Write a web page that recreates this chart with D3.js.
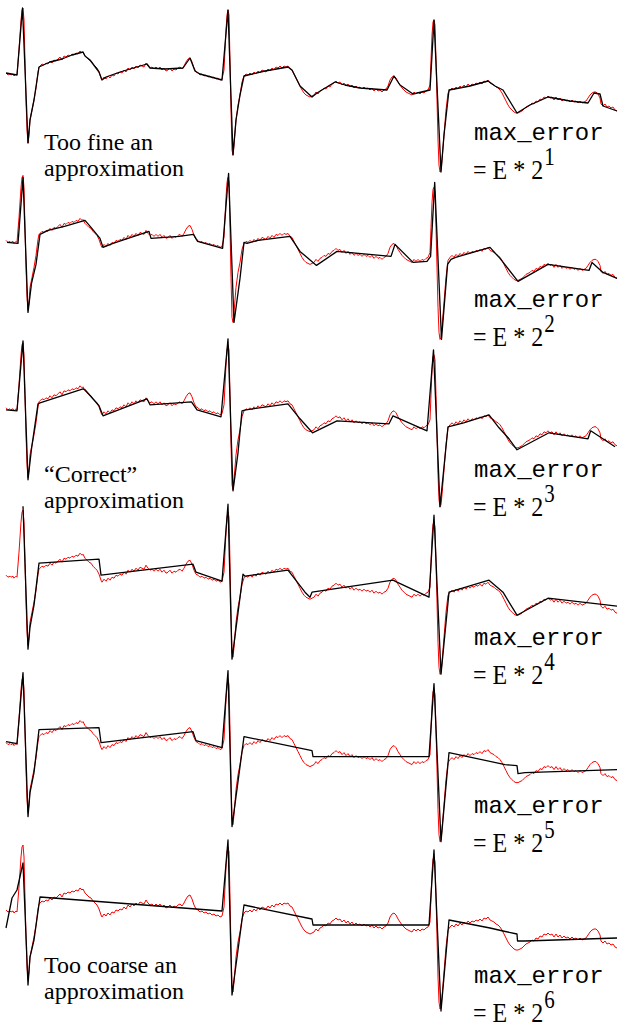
<!DOCTYPE html>
<html><head><meta charset="utf-8">
<script src="https://cdn.jsdelivr.net/npm/d3@7/dist/d3.min.js"></script>
<style>html,body{margin:0;padding:0;background:#fff;} svg{display:block;}</style>
</head><body>
<script>
// Raw ECG signal [sample, value] (same signal in every panel)
const rawSignal = [
[6,7],[8,5],[10,6],[11,5],[13,6],[14,4],[16,6],[17,5],
[19,30],[21,60],[22,70],[23,72],[24,60],[25,20],[26,-20],[27,-50],[28,-63],[29,-55],[30,-40],[32,-30],[34,-20],[36,-8],[38,8],[39,13],
[40,14],[42,16],[44,15],[46,17],[48,16],[50,19],[52,17],[54,20],[56,19],[58,21],[60,23],[62,20],[64,24],[66,23],[68,25],[70,24],[72,26],[74,25],[76,27],[78,26],[80,29],[82,27],[83,28],
[85,24],[87,22],[89,20],[91,19],[93,16],[95,14],[97,12],[99,8],[101,2],[102,0],[104,3],[106,1],[108,4],[110,2],[112,5],[114,4],[116,7],[118,6],[120,8],[122,7],[124,10],[126,8],[128,12],[130,10],[132,13],[134,11],[136,14],[138,12],[140,15],[142,14],[144,13],[146,17],[148,14],[150,12],[152,13],[154,11],[156,13],[158,11],[160,13],[162,10],[164,12],[166,9],[168,10],[170,12],[172,9],[174,11],[176,10],[178,12],[180,13],[182,11],[184,14],[186,18],[188,21],[190,22],[192,18],[194,12],[196,8],[198,7],[200,5],[202,6],[204,4],[206,5],[208,3],[210,4],[212,2],[214,3],[216,1],[218,2],[220,0],[222,1],
[224,10],[226,50],[227,65],[228,70],[229,65],[230,20],[231,-30],[232,-70],[233,-75],[234,-65],[236,-40],[238,-25],[240,-15],[242,-2],[244,4],[246,6],[248,5],[250,7],[252,5],[254,8],[256,6],[258,9],[260,7],[262,10],[264,9],[266,8],[268,11],[270,9],[272,12],[274,10],[276,13],[278,12],[280,14],[282,12],[284,14],[286,13],[288,14],[290,11],[292,10],[294,6],[296,2],[298,-2],[300,-6],[302,-10],[304,-13],[306,-15],[308,-16],[310,-17],[312,-16],[314,-15],[316,-12],[318,-14],[320,-11],[322,-10],[324,-8],[326,-9],[328,-6],[330,-7],[332,-4],[334,-3],[336,-1],[338,-3],[340,-2],[342,-5],[344,-3],[346,-6],[348,-4],[350,-7],[352,-5],[354,-8],[356,-6],[358,-8],[360,-7],[362,-9],[364,-7],[366,-9],[368,-8],[370,-10],[372,-8],[374,-11],[376,-9],[378,-11],[380,-10],[382,-12],[384,-10],[386,-9],[388,-6],[390,0],[392,3],[394,4],[396,2],[398,-2],[400,-5],[402,-8],[404,-10],[406,-12],[408,-13],[410,-14],[412,-15],[414,-12],[416,-14],[418,-12],[420,-14],[422,-12],[424,-13],[426,-11],[428,-10],[430,-5],
[431,20],[432,45],[433,58],[434,60],[435,55],[436,20],[437,-20],[438,-60],[439,-85],[440,-92],[441,-90],[442,-80],[444,-55],[446,-30],[448,-13],[450,-10],[452,-8],[454,-10],[456,-7],[458,-9],[460,-6],[462,-8],[464,-5],[466,-7],[468,-4],[470,-6],[472,-4],[474,-5],[476,-3],[478,-4],[480,-2],[482,-4],[484,-1],[486,-2],[488,0],[490,-3],[492,-4],[494,-5],[496,-7],[498,-8],[500,-10],[502,-13],[504,-17],[506,-21],[508,-25],[510,-28],[512,-30],[514,-32],[516,-33],[518,-33],[520,-32],[522,-31],[524,-29],[526,-27],[528,-26],[530,-25],[532,-23],[534,-24],[536,-21],[538,-22],[540,-19],[542,-20],[544,-17],[546,-18],[548,-16],[550,-18],[552,-17],[554,-20],[556,-17],[558,-20],[560,-18],[562,-21],[564,-19],[566,-21],[568,-20],[570,-22],[572,-20],[574,-22],[576,-21],[578,-23],[580,-21],[582,-23],[584,-22],[586,-21],[588,-18],[590,-15],[592,-13],[594,-12],[596,-12],[598,-14],[600,-18],[601,-24],[603,-26],[605,-24],[607,-27],[609,-26],[611,-28],[613,-27],[615,-30],[617,-31]
];

// Piecewise-linear approximations, one per max_error level
const approx1 = [[6,7],[17,5],[22.5,72],[28,-63],[30,-40],[34,-20],[39,13],[50,18],[62,21],[72,25],[83,28],[85,24],[90,20],[99,8],[102,0],[106,3],[120,8],[130,11],[147,16],[150,12],[165,11],[183,12],[190,22],[195,9],[200,6],[222,0],[228,70],[233,-75],[236,-40],[240,-15],[244,4],[265,9],[288,13],[292,10],[300,-6],[312,-17],[317,-13],[335,-2],[345,-5],[360,-8],[387,-10],[394,4],[400,-5],[413,-14],[430,-10],[434,60],[441,-92],[444,-55],[449,-10],[470,-6],[488,-1],[495,-6],[503,-10],[517,-33],[530,-25],[548,-17],[570,-21],[588,-23],[594,-13],[600,-14],[603,-26],[617,-31]];
const approx2 = [[7,5],[18,4],[23,70],[28,-65],[31.5,-36],[36,-17],[40,13],[48,17],[64.5,21],[85,27],[91,20],[100,9],[103,0],[113,4],[149,16],[151,9],[179,11],[193.5,13],[197.6,6],[222.6,-1],[228.6,74],[234,-75],[240,-31],[244,5],[247,4],[258,7],[290,11],[300,-4],[316.5,-18],[337,-4],[391,-9],[395,3],[413,-15],[427,-14],[430.6,-9],[434.7,65],[441.5,-92],[447.6,-17],[451,-12],[455.6,-10],[490,0],[500,-11],[518,-34],[548,-17],[589,-23],[592,-15],[603,-25],[617,-31]];
const approx3 = [[6,5],[17,4],[23,74],[28,-65],[31.5,-34],[38,11],[40,12],[83,26],[85,25],[99,9],[103,-1],[147,16],[150,10],[191.5,13],[197,5],[221,-2],[228,76],[233,-76],[238,-38],[242,4],[246,5],[288,11],[300,-4],[312.5,-18],[337,-6],[389,-9],[393,-1],[427,-16],[433.5,65],[440,-92],[448,-12],[463.7,-8],[489,0],[499,-13],[509,-24],[517,-35],[549,-18],[588,-24],[590.7,-16],[615,-32]];
const approx4 = [[23,76],[28,-67],[30,-45],[34,-23],[39,19],[99,23],[101,7],[193,18],[196,10],[222,1],[228,78],[232,-77],[243,8],[245,6],[288,12],[305,-10],[310,-15],[312,-10],[393,2],[397,0],[429,-15],[434,67],[441,-92],[449,-10],[489,2],[503,-10],[517,-33],[548,-16],[617,-24]];
const approx5 = [[6,8],[17,6],[23,77],[28,-67],[30,-43],[34,-23],[39,20],[99,22],[101,7],[193,18],[196,9],[222,2],[228,79],[232,-77],[244,13],[312,-1],[313,-7],[429,-7],[434,66],[441,-92],[449,-3],[505,-15],[517,-16],[518,-24],[525,-23],[617,-20]];
const approx6 = [[6,-11],[12,19],[17,27],[23,54],[28,-68],[30,-40],[34,-23],[40,20],[222,6],[228,77],[232,-78],[244,12],[312,-2],[313,-8],[429,-8],[434,67],[441,-94],[449,-3],[490,-11],[503,-14],[517,-17],[517.5,-24],[525,-24],[617,-21]];
const approximations = [approx1, approx2, approx3, approx4, approx5, approx6];

// Labels
const exponents = ["1","2","3","4","5","6"];
const leftLabels = [["Too fine an","approximation"], null, ["\u201CCorrect\u201D","approximation"], null, null, ["Too coarse an","approximation"]];

const W = 633, H = 1031;
const panelStep = 167.4;
const panelHeight = 180;
const leftLabelBase = [150, null, 482, null, null, 973];
const rightLabelBase = [140, 307, 477, 645, 813, 983];
const SERIF = '"Liberation Serif"';
const MONO = '"Liberation Mono"';

const svg = d3.select("body").append("svg").attr("width", W).attr("height", H);

const x = d3.scaleLinear().domain([0, 633]).range([0, 633]);

approximations.forEach((approx, i) => {
  const top = i * panelStep;
  const y = d3.scaleLinear().domain([80, -100]).range([top, top + panelHeight]);
  const line = d3.line().x(d => x(d[0])).y(d => y(d[1]));
  const g = svg.append("g");
  g.append("path").datum(rawSignal).attr("d", line)
    .attr("fill", "none").attr("stroke", "#ff0000").attr("stroke-width", 1).attr("stroke-linejoin", "round");
  g.append("path").datum(approx).attr("d", line)
    .attr("fill", "none").attr("stroke", "#000").attr("stroke-width", 1.3).attr("stroke-linejoin", "round");

  // right label
  const rb = rightLabelBase[i];
  g.append("text").attr("x", 474).attr("y", rb)
    .style("font-family", MONO).attr("font-size", 24).attr("fill", "#000").text("max_error");
  const f = g.append("text")
    .attr("transform", `translate(473,${rb + 39}) scale(1,1.15)`)
    .style("font-family", SERIF).attr("font-size", 24).attr("fill", "#000").style("white-space", "pre");
  f.append("tspan").text("= E * 2");
  f.append("tspan").attr("dx", 1).attr("dy", -12).attr("font-size", 21).text(exponents[i]);

  if (leftLabels[i]) {
    const lb = leftLabelBase[i];
    leftLabels[i].forEach((t, k) => {
      g.append("text").attr("x", 44).attr("y", lb + k * 26)
        .style("font-family", SERIF).attr("font-size", 24).attr("fill", "#000").text(t);
    });
  }
});
</script>
</body></html>
